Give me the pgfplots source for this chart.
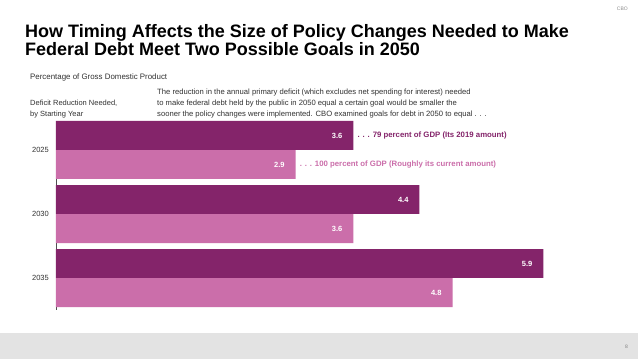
\documentclass[border=0pt]{standalone}
\usepackage{pgfplots}
\pgfplotsset{compat=1.18}
\usepackage{fontspec}
\setmainfont{Liberation Sans}
\definecolor{darkp}{RGB}{132,36,106}
\definecolor{lightp}{RGB}{203,110,170}
\definecolor{txtgray}{RGB}{50,50,50}
\definecolor{axgray}{RGB}{80,80,80}
\begin{document}
\begin{tikzpicture}
\fill[white] (0,0) rectangle (638pt,-359pt);
\fill[black!11] (0,-333pt) rectangle (638pt,-359pt);
\node[anchor=base east, inner sep=0, text=black!45, font=\fontsize{5}{6}\selectfont] at (628pt,-10pt) {CBO};
\node[anchor=base east, inner sep=0, text=black!50, font=\fontsize{5}{6}\selectfont] at (628pt,-348pt) {8};
\node[anchor=base west, inner sep=0, font=\bfseries\fontsize{18}{19}\selectfont] at (25pt,-37pt) {How Timing Affects the Size of Policy Changes Needed to Make};
\node[anchor=base west, inner sep=0, font=\bfseries\fontsize{18}{19}\selectfont] at (25pt,-55pt) {Federal Debt Meet Two Possible Goals in 2050};
\node[anchor=base west, inner sep=0, text=txtgray, font=\fontsize{7.9}{8}\selectfont] at (30pt,-79pt) {Percentage of Gross Domestic Product};
\node[anchor=base west, inner sep=0, text=txtgray, font=\fontsize{7.5}{8}\selectfont] at (30pt,-105pt) {Deficit Reduction Needed,};
\node[anchor=base west, inner sep=0, text=txtgray, font=\fontsize{7.5}{8}\selectfont] at (30pt,-116pt) {by Starting Year};
\node[anchor=base west, inner sep=0, text=txtgray, font=\fontsize{7.65}{8}\selectfont] at (157pt,-94pt) {The reduction in the annual primary deficit (which excludes net spending for interest) needed};
\node[anchor=base west, inner sep=0, text=txtgray, font=\fontsize{7.65}{8}\selectfont] at (157pt,-105pt) {to make federal debt held by the public in 2050 equal a certain goal would be smaller the};
\node[anchor=base west, inner sep=0, text=txtgray, font=\fontsize{7.65}{8}\selectfont] at (157pt,-116pt) {sooner the policy changes were implemented. CBO examined goals for debt in 2050 to equal . . .};
\begin{axis}[
  at={(56pt,-121pt)}, anchor=north west,
  scale only axis, width=570pt, height=189pt,
  xbar, bar shift=0pt, bar width=0.453,
  xmin=0, xmax=6.9, ymin=-0.453, ymax=2.5, y dir=reverse,
  hide x axis, axis y line*=left,
  axis line style={-, draw=axgray, line width=0.8pt},
  ytick={0,1,2}, yticklabels={2025,2030,2035},
  major tick length=0pt,
  yticklabel style={font=\fontsize{7.5}{8}\selectfont, text=txtgray, inner sep=0pt, xshift=-7pt},
  point meta=x,
  nodes near coords={\pgfmathprintnumber[fixed,fixed zerofill,precision=1,assume math mode=true]{\pgfplotspointmeta}},
  every node near coord/.append style={anchor=east, xshift=-7.5pt, text=white, font=\bfseries\fontsize{7.5}{8}\selectfont},
  clip=false,
]
\addplot[draw=none, fill=darkp] coordinates {(3.6,-0.2266) (4.4,0.7734) (5.9,1.7734)};
\addplot[draw=none, fill=lightp] coordinates {(2.9,0.2266) (3.6,1.2266) (4.8,2.2266)};
\node[anchor=west, inner sep=0pt, xshift=4pt, text=darkp, font=\bfseries\fontsize{7.8}{8}\selectfont] at (axis cs:3.6,-0.2266) {. . . 79 percent of GDP (Its 2019 amount)};
\node[anchor=west, inner sep=0pt, xshift=4pt, text=lightp, font=\bfseries\fontsize{7.8}{8}\selectfont] at (axis cs:2.9,0.2266) {. . . 100 percent of GDP (Roughly its current amount)};
\end{axis}
\end{tikzpicture}
\end{document}
